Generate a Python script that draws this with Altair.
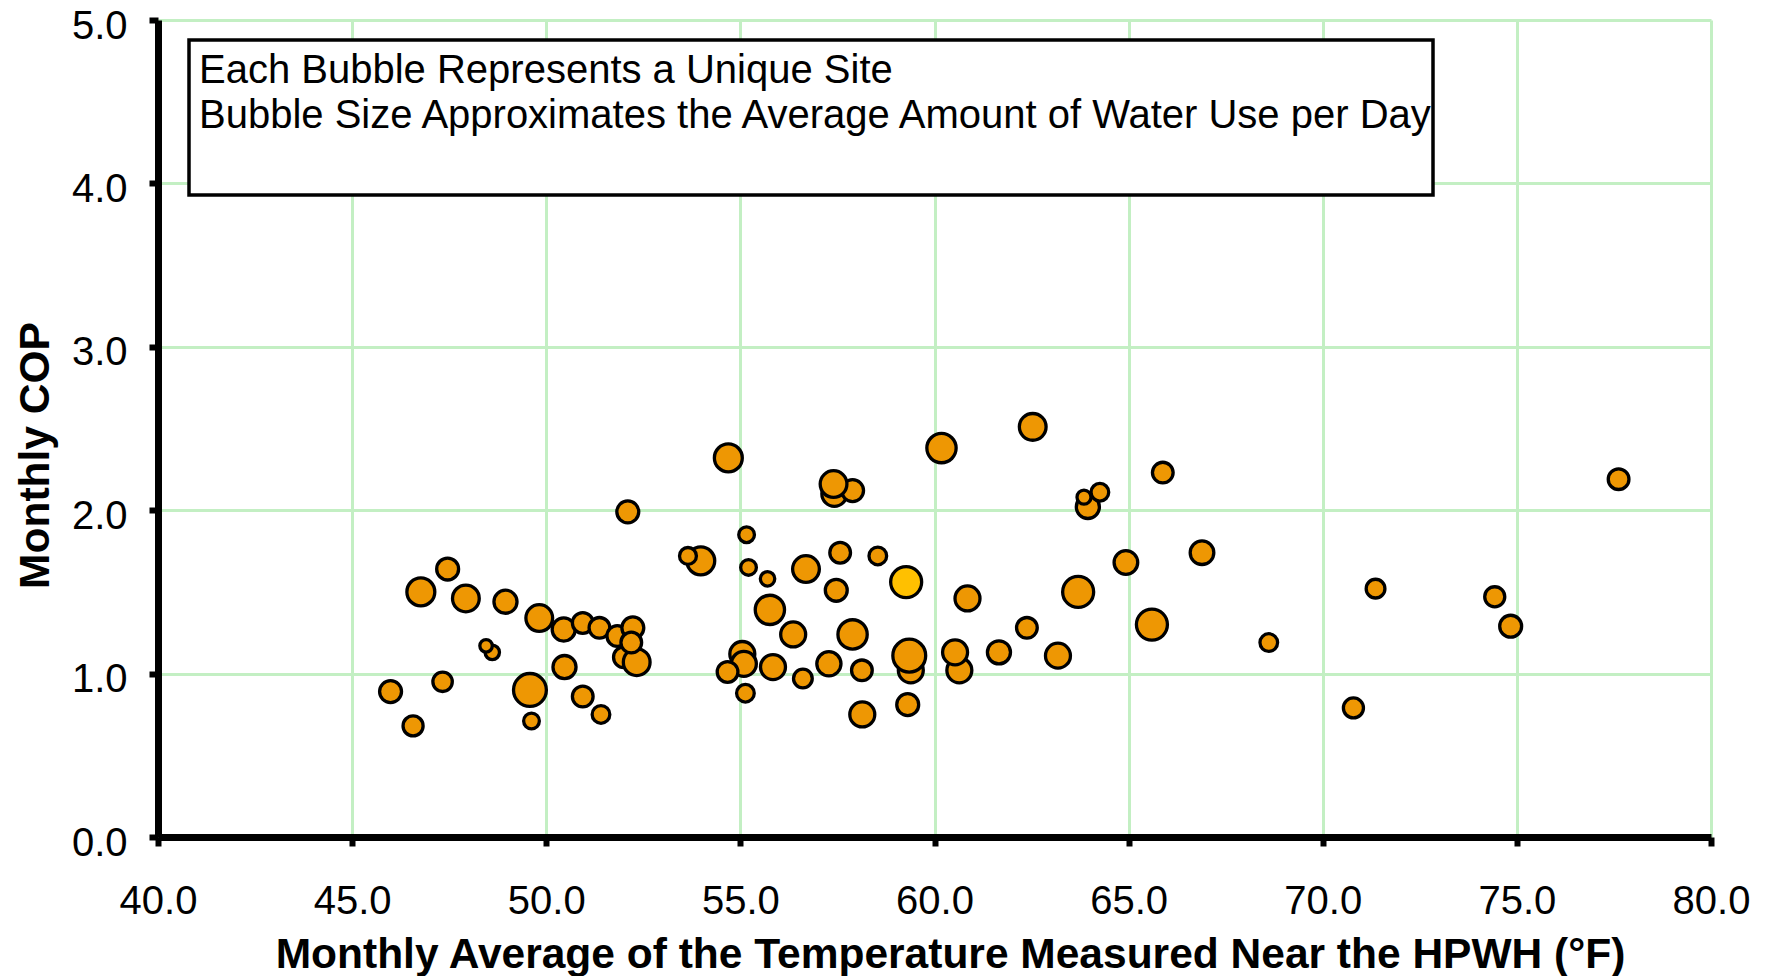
import altair as alt
import pandas as pd

# ---- data ----
temp_f = [45.99, 46.57, 46.77, 47.46, 47.33, 47.93, 48.95, 48.61, 48.45, 49.58,
          49.62, 49.82, 50.47, 50.45, 50.94, 50.94, 51.37, 51.41, 52.00, 52.33,
          51.83, 52.23, 52.19, 52.10, 54.69, 53.98, 53.65, 55.16, 55.21, 55.70,
          55.05, 55.09, 54.67, 55.13, 55.76, 56.36, 55.84, 56.61, 56.69, 57.57,
          58.54, 57.47, 57.42, 57.89, 57.40, 57.28, 57.89, 58.13, 58.14, 59.39,
          59.35, 59.31, 59.27, 60.18, 60.85, 60.64, 60.53, 61.66, 62.38, 63.18,
          62.53, 63.70, 63.95, 64.26, 63.85, 65.88, 64.93, 66.89, 65.60, 68.61,
          71.36, 70.79, 74.43, 74.84, 77.62]
monthly_cop = [0.89, 0.68, 1.50, 1.64, 0.95, 1.46, 1.44, 1.13, 1.17, 0.90,
               0.71, 1.34, 1.04, 1.27, 1.31, 0.86, 1.28, 0.75, 1.10, 1.07,
               1.23, 1.28, 1.19, 1.99, 2.32, 1.69, 1.72, 1.85, 1.65, 1.58,
               1.12, 1.06, 1.01, 0.88, 1.39, 1.24, 1.04, 0.97, 1.64, 1.74,
               1.72, 1.51, 2.10, 2.12, 2.16, 1.06, 1.24, 1.02, 0.75, 1.02,
               1.11, 0.81, 1.56, 2.38, 1.46, 1.02, 1.13, 1.13, 1.28, 1.11,
               2.51, 1.50, 2.02, 2.11, 2.08, 2.23, 1.68, 1.74, 1.30, 1.19,
               1.52, 0.79, 1.47, 1.29, 2.19]
water_gpd = [37, 31, 60, 37, 29, 55, 41, 16, 12, 83,
             19, 55, 41, 41, 33, 33, 33, 24, 33, 55,
             33, 37, 33, 37, 60, 60, 22, 19, 19, 16,
             48, 48, 33, 24, 66, 48, 48, 27, 55, 33,
             24, 37, 48, 37, 55, 45, 66, 33, 48, 48,
             83, 37, 74, 66, 48, 48, 48, 41, 33, 48,
             55, 74, 41, 24, 15, 33, 43, 43, 74, 24,
             27, 31, 31, 37, 33]
highlighted_site = 53  # 1-based position of the yellow bubble

x_ticks = [40, 45, 50, 55, 60, 65, 70, 75, 80]
y_ticks = [0, 1, 2, 3, 4, 5]
note_lines = ["Each Bubble Represents a Unique Site",
              "Bubble Size Approximates the Average Amount of Water Use per Day"]

FONT = "Liberation Sans"
ORANGE = "#EE9703"
YELLOW = "#FFC000"
GRID = "#C3EFC3"

df = pd.DataFrame({
    "temp": temp_f,
    "cop": monthly_cop,
    "water": water_gpd,
    "idx": list(range(1, len(temp_f) + 1)),
})
df["group"] = ["Highlighted" if i == highlighted_site else "Site" for i in df["idx"]]

W, H = 1553, 817

bubbles = alt.Chart(df).mark_circle(
    opacity=1, stroke="black", strokeWidth=3.3
).encode(
    x=alt.X("temp:Q",
            scale=alt.Scale(domain=[40, 80], nice=False, zero=False),
            axis=alt.Axis(values=x_ticks, format=".1f",
                          title="Monthly Average of the Temperature Measured Near the HPWH (°F)",
                          labelPadding=67, labelBaseline="alphabetic",
                          labelFlush=False, labelOverlap=False,
                          titleX=792, titleY=130, titleBaseline="alphabetic",
                          titleAlign="center")),
    y=alt.Y("cop:Q",
            scale=alt.Scale(domain=[0, 5], nice=False, zero=True),
            axis=alt.Axis(values=y_ticks, format=".1f", title="Monthly COP",
                          labelPadding=22, labelAlign="right", labelBaseline="middle",
                          labelOffset=6, labelFlush=False, labelOverlap=False,
                          titleX=-110, titleY=435, titleAngle=270,
                          titleBaseline="alphabetic", titleAlign="center")),
    size=alt.Size("water:Q", scale=alt.Scale(domain=[0, 100], range=[0, 1300]),
                  legend=None),
    color=alt.Color("group:N",
                    scale=alt.Scale(domain=["Site", "Highlighted"], range=[ORANGE, YELLOW]),
                    legend=None),
    order=alt.Order("idx:Q"),
)

box_df = pd.DataFrame({"k": [0]})
box = alt.Chart(box_df).mark_rect(fill="white", stroke="black", strokeWidth=3.5).encode(
    x=alt.value(31), x2=alt.value(1275), y=alt.value(20), y2=alt.value(175)
)
line1 = alt.Chart(box_df).mark_text(
    align="left", baseline="alphabetic", font=FONT, fontSize=40, color="black"
).encode(x=alt.value(41), y=alt.value(63), text=alt.value(note_lines[0]))
line2 = alt.Chart(box_df).mark_text(
    align="left", baseline="alphabetic", font=FONT, fontSize=40, color="black"
).encode(x=alt.value(41), y=alt.value(108), text=alt.value(note_lines[1]))

chart = alt.layer(bubbles, box, line1, line2).properties(
    width=W, height=H,
    autosize=alt.AutoSizeParams(type="none"),
    padding={"left": 150, "top": 12, "right": 50, "bottom": 150},
).configure_view(stroke=None).configure_axis(
    grid=True, gridColor=GRID, gridWidth=3,
    domainColor="black", domainWidth=7,
    tickColor="black", tickWidth=6, tickSize=9,
    labelFont=FONT, labelFontSize=40, labelColor="black",
    titleFont=FONT, titleFontSize=42.5, titleFontWeight="bold", titleColor="black",
)

chart.save("out.html", embed_options={"renderer": "svg", "actions": False})
